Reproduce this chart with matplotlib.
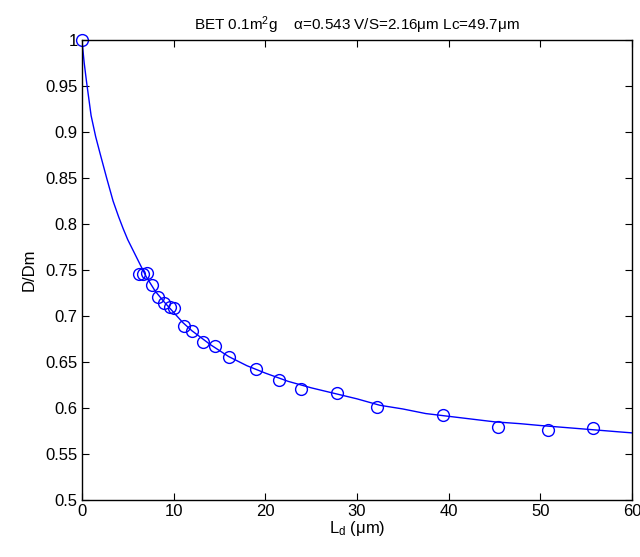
import numpy as np
import matplotlib.pyplot as plt

plt.rcParams['font.family'] = ['Liberation Sans', 'DejaVu Sans']
plt.rcParams['mathtext.fontset'] = 'custom'
plt.rcParams['mathtext.rm'] = 'Liberation Sans'
plt.rcParams['mathtext.it'] = 'Liberation Sans'

# measured points
ld_meas = [0, 6.2, 6.7, 7.05, 7.6, 8.25, 8.94, 9.6, 10.03, 11.1, 11.96, 13.2,
           14.5, 16.0, 19.0, 21.5, 23.85, 27.84, 32.2, 39.4, 45.4, 50.85, 55.76]
d_meas = [1.0, 0.746, 0.746, 0.747, 0.734, 0.721, 0.714, 0.710, 0.709, 0.689,
          0.684, 0.672, 0.667, 0.656, 0.642, 0.630, 0.621, 0.616, 0.601, 0.592,
          0.579, 0.576, 0.578]

# fitted curve
ld_fit = [0, 0.25, 0.5, 1.0, 1.5, 2.0, 2.7, 3.4, 4.0, 4.5, 5.0, 5.6, 6.3, 7,
          8, 9, 10, 11, 12, 14, 16, 18, 20, 22.5, 25, 27.5, 30, 32.5, 35, 37.5,
          40, 45, 47.8, 50, 55, 58.7, 60]
d_fit = [1.0, 0.975, 0.955, 0.918, 0.895, 0.876, 0.850, 0.825, 0.808, 0.795,
         0.783, 0.771, 0.757, 0.743, 0.727, 0.715, 0.704, 0.693, 0.684, 0.669,
         0.656, 0.646, 0.638, 0.629, 0.622, 0.616, 0.610, 0.603, 0.599, 0.594,
         0.591, 0.585, 0.583, 0.581, 0.577, 0.574, 0.573]

fig = plt.figure(figsize=(6.4, 5.57), dpi=100)
ax = fig.add_axes([0.128, 0.1023, 0.8595, 0.8257])

ax.plot(ld_fit, d_fit, color='b', lw=1)
ax.plot(ld_meas, d_meas, 'o', mfc='none', mec='b', ms=8.5, mew=1, clip_on=False)

ax.set_xlim(0, 60)
ax.set_ylim(0.5, 1)
ax.set_xticks(np.arange(0, 61, 10))
ax.set_yticks(np.arange(0.5, 1.001, 0.05))
ax.set_yticklabels(['0.5', '0.55', '0.6', '0.65', '0.7', '0.75', '0.8',
                    '0.85', '0.9', '0.95', '1'])
ax.tick_params(direction='in', top=True, right=True, length=5, labelsize=12,
               pad=3)
for s in ax.spines.values():
    s.set_linewidth(1)

ax.set_xlabel('L$_\\mathrm{d}$ (μm)', fontsize=12, labelpad=0)
ax.set_ylabel('D/Dm', fontsize=12, labelpad=6)
ax.set_title('BET 0.1m$^2$g    α=0.543 V/S=2.16μm Lc=49.7μm', fontsize=11, pad=7)

fig.savefig('out.png')
